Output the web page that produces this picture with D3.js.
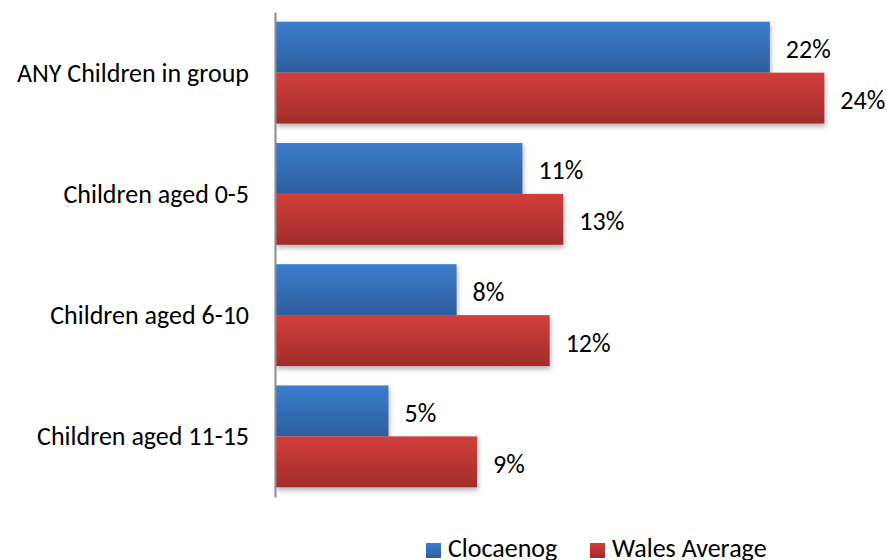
<!DOCTYPE html>
<html><head><meta charset="utf-8">
<script src="https://cdn.jsdelivr.net/npm/d3@7"></script>
<style>body{margin:0;background:#fff}svg{display:block}text{font-family:Carlito,Calibri,Lato,sans-serif;fill:#000}</style>
</head><body>
<svg id="c" width="887" height="560"></svg>
<script>
const categories = ["ANY Children in group","Children aged 0-5","Children aged 6-10","Children aged 11-15"];
const seriesNames = ["Clocaenog","Wales Average"];
const clocaenog = [21.8, 10.9, 8.0, 5.0];
const walesAverage = [24.2, 12.7, 12.1, 8.9];
const labelsClocaenog = ["22%","11%","8%","5%"];
const labelsWales = ["24%","13%","12%","9%"];

const FS = 26;
const svg = d3.select("#c");
const defs = svg.append("defs");
function grad(id, top, bottom){
  const g = defs.append("linearGradient").attr("id",id).attr("x1",0).attr("y1",0).attr("x2",0).attr("y2",1);
  g.append("stop").attr("offset","0%").attr("stop-color",top);
  g.append("stop").attr("offset","100%").attr("stop-color",bottom);
}
grad("gb","#3c7dcd","#2d5e9e");
grad("gr","#d13f3c","#a22c2b");
const f = defs.append("filter").attr("id","sh").attr("x","-5%").attr("y","-10%").attr("width","115%").attr("height","140%");
f.append("feDropShadow").attr("dx",1).attr("dy",3).attr("stdDeviation",2.5).attr("flood-color","#000").attr("flood-opacity",0.3);

const x = d3.scaleLinear().domain([0,25]).range([275, 842.5]);
const y = d3.scaleBand().domain(categories).range([12,497]).paddingInner(0.16).paddingOuter(0.08);
const sub = d3.scaleBand().domain(seriesNames).range([0, y.bandwidth()]);

const series = [
  {name:seriesNames[0], vals:clocaenog, labels:labelsClocaenog, fill:"url(#gb)"},
  {name:seriesNames[1], vals:walesAverage, labels:labelsWales, fill:"url(#gr)"}
];

const g = svg.append("g");
series.forEach(s=>{
  g.selectAll(null).data(categories).enter().append("rect")
    .attr("x", x(0)+1)
    .attr("y", c=>y(c)+sub(s.name))
    .attr("width", (c,i)=>x(s.vals[i])-x(0)-1)
    .attr("height", sub.bandwidth())
    .attr("fill", s.fill)
    .attr("filter","url(#sh)");
});
series.forEach(s=>{
  g.selectAll(null).data(categories).enter().append("text")
    .attr("x",(c,i)=>x(s.vals[i])+16)
    .attr("y", c=>y(c)+sub(s.name)+sub.bandwidth()/2)
    .attr("dy","0.42em")
    .attr("font-size",FS)
    .text((c,i)=>s.labels[i]);
});

const axis = d3.axisLeft(y).tickSize(0).tickPadding(26);
const ag = svg.append("g").attr("transform",`translate(${x(0)},0)`).call(axis);
ag.select(".domain").attr("stroke","#8c8c8c").attr("stroke-width",2);
ag.selectAll(".tick text").attr("font-size",FS).attr("font-family","Carlito,Calibri,Lato,sans-serif").attr("fill","#000").attr("dy","0.35em");

const lg = svg.append("g");
const legendX = [426, 590];
series.forEach((s,i)=>{
  lg.append("rect").attr("x",legendX[i]).attr("y",543).attr("width",15).attr("height",15).attr("fill",s.fill);
  lg.append("text").attr("x",legendX[i]+22).attr("y",557).attr("font-size",FS).text(s.name);
});
</script>
</body></html>
